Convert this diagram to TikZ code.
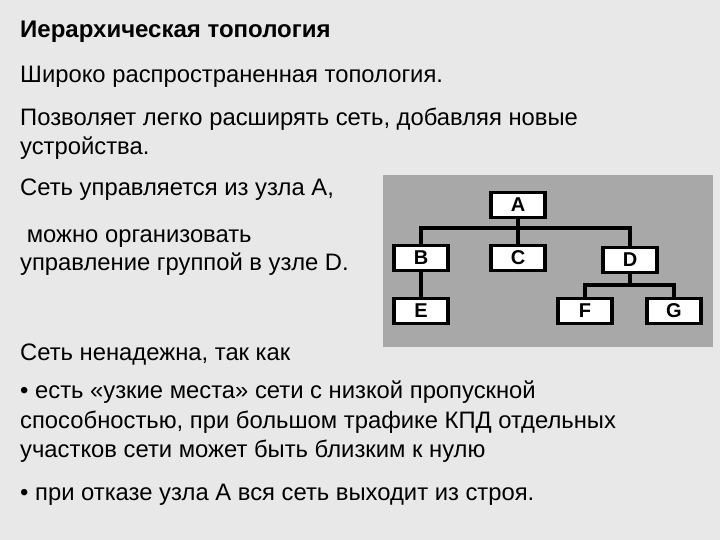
\documentclass[tikz,border=0pt]{standalone}
\usepackage{fontspec}
\setmainfont{Liberation Sans}
\begin{document}
\begin{tikzpicture}[x=1bp,y=-1bp,
  txt/.style={anchor=base west,inner sep=0pt,font=\fontsize{23.8bp}{28bp}\selectfont},
  box/.style={draw=black,line width=3.5bp,fill=white,minimum width=54bp,minimum height=25bp,inner sep=0pt,font=\bfseries\fontsize{20bp}{20bp}\selectfont},
  wire/.style={line width=3.5bp}]
\fill[white!91!black] (0,0) rectangle (720,540);
\useasboundingbox (0,0) rectangle (720,540);
\fill[white!66!black] (383,175) rectangle (713,347);
\node[txt,font=\bfseries\fontsize{24bp}{28bp}\selectfont] (t0) at (20,38) {Иерархическая топология};
\node[txt] (t1) at (20,83) {Широко распространенная топология.};
\node[txt] (t2) at (20,126) {Позволяет легко расширять сеть, добавляя новые};
\node[txt] (t3) at (20,155) {устройства.};
\node[txt] (t4) at (20,196) {Сеть управляется из узла А,};
\node[txt] (t5) at (20,243) {\ можно организовать};
\node[txt] (t6) at (20,271) {управление группой в узле D.};
\node[txt] (t7) at (20,360) {Сеть ненадежна, так как};
\node[txt] (t8) at (20,398) {• есть «узкие места» сети с низкой пропускной};
\node[txt] (t9) at (20,428) {способностью, при большом трафике КПД отдельных};
\node[txt] (t10) at (20,457) {участков сети может быть близким к нулю};
\node[txt] (t11) at (20,500) {• при отказе узла А вся сеть выходит из строя.};
\coordinate (bus1) at (518,228);
\coordinate (bus2) at (630,285);
\draw[wire] (518,205) -- (bus1);
\draw[wire] (421,258) |- (bus1) -| (630,258);
\draw[wire] (518,228) -- (518,258);
\draw[wire] (421,258) -- (421,311);
\draw[wire] (630,260) -- (bus2);
\draw[wire] (585,311) |- (bus2) -| (674,311);
\node[box] (A) at (518,205) {A};
\node[box] (B) at (421,258) {B};
\node[box] (C) at (518,258) {C};
\node[box] (D) at (630,260) {D};
\node[box] (E) at (421,311) {E};
\node[box] (F) at (585,311) {F};
\node[box] (G) at (674,311) {G};
\end{tikzpicture}
\end{document}
